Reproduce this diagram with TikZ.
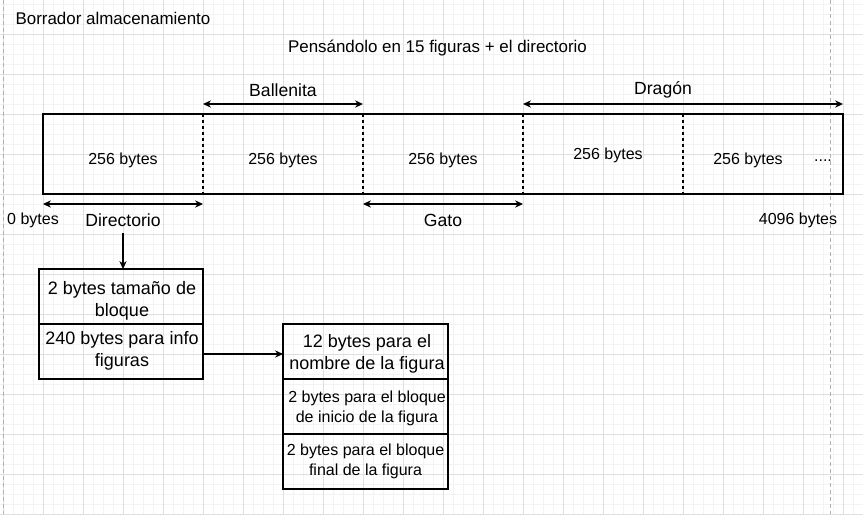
\documentclass[tikz,border=0pt]{standalone}
\usepackage{fontspec}
\setmainfont{Liberation Sans}
\usetikzlibrary{arrows.meta,calc}
\definecolor{gridminor}{HTML}{F3F3F3}
\definecolor{gridmajor}{HTML}{DFDFDF}
\definecolor{pageline}{HTML}{B0B0B0}
\begin{document}
\begin{tikzpicture}[x=0.75pt,y=-0.75pt,
  line/.style={draw=black,line width=0.8pt},
  div/.style={draw=black,line width=0.8pt,dash pattern=on 2.25pt off 2.25pt},
  tip/.tip={Stealth[length=6pt,width=5.5pt,inset=2pt]},
  arr/.style={line,-tip},
  darr/.style={line,tip-tip},
  cellnode/.style={minimum width=120pt,minimum height=60pt,inner sep=0pt,outer sep=0pt},
  celltxt/.style={inner sep=0pt,font=\fontsize{12pt}{14pt}\selectfont},
  title/.style={inner sep=0pt,font=\fontsize{12.7pt}{15pt}\selectfont},
  arrlbl/.style={inner sep=0pt,font=\fontsize{13.2pt}{15pt}\selectfont},
  boxcell/.style={draw=black,line width=0.8pt,inner sep=0pt,outer sep=0pt},
  bigtxt/.style={inner sep=0pt,align=center,font=\fontsize{13.5pt}{16.5pt}\selectfont},
  smalltxt/.style={inner sep=0pt,align=center,font=\fontsize{12pt}{15pt}\selectfont}
]
\useasboundingbox (0,0) rectangle (863,514);
\fill[white] (0,0) rectangle (863,514);
% grid
\foreach \gx in {3,13,...,863} \draw[gridminor,line width=0.75pt] (\gx,0) -- (\gx,514);
\foreach \gy in {4,14,...,514} \draw[gridminor,line width=0.75pt] (0,\gy) -- (863,\gy);
\foreach \gx in {3,43,...,863} \draw[gridmajor,line width=0.75pt] (\gx,0) -- (\gx,514);
\foreach \gy in {34,74,...,514} \draw[gridmajor,line width=0.75pt] (0,\gy) -- (863,\gy);
% page boundaries
\draw[pageline,line width=0.75pt,dash pattern=on 3pt off 2.25pt] (3,0) -- (3,514);
\draw[pageline,line width=0.75pt,dash pattern=on 3pt off 2.25pt] (830,0) -- (830,514);

% titles
\node[title] (borrador) at (113,18) {Borrador almacenamiento};
\node[title] (pensando) at (437.5,48.5) {Pensándolo en 15 figuras + el directorio};

% memory strip
\node[cellnode] (c1) at (123,154) {};
\node[cellnode] (c2) at (283,154) {};
\node[cellnode] (c3) at (443,154) {};
\node[cellnode] (c4) at (603,154) {};
\node[cellnode] (c5) at (763,154) {};
\draw[line] (c1.north west) rectangle (c5.south east);
\foreach \i in {1,...,4} \draw[div] (c\i.north east) -- (c\i.south east);
\node[celltxt] (t1) at (123,160.5) {256 bytes};
\node[celltxt] (t2) at (283,160.5) {256 bytes};
\node[celltxt] (t3) at (443,160.5) {256 bytes};
\node[celltxt] (t4) at (608,155.5) {256 bytes};
\node[celltxt] (t5) at (748,160.5) {256 bytes};
\node[celltxt,anchor=base] (dots) at (823,161) {....};

% range arrows
\draw[darr] ($(c2.north west)+(0,-10)$) -- ($(c2.north east)+(0,-10)$);
\draw[darr] ($(c4.north west)+(0,-10)$) -- ($(c5.north east)+(0,-10)$);
\draw[darr] ($(c1.south west)+(0,10)$) -- ($(c1.south east)+(0,10)$);
\draw[darr] ($(c3.south west)+(0,10)$) -- ($(c3.south east)+(0,10)$);
\node[arrlbl] (ballenita) at (283,90) {Ballenita};
\node[arrlbl] (dragon) at (663,90) {Dragón};
\node[arrlbl] (directorio) at (123,220) {Directorio};
\node[arrlbl] (gato) at (443,220) {Gato};
\node[celltxt] (zero) at (33,220.5) {0 bytes};
\node[celltxt] (end) at (798,220.5) {4096 bytes};

% directory box
\node[boxcell,minimum width=123pt,minimum height=41.25pt] (b1a) at (121,296.5) {};
\node[boxcell,minimum width=123pt,minimum height=41.25pt] (b1b) at (121,351.5) {};
\node[bigtxt] (b1atxt) at (122,300.5) {2 bytes tamaño de\\bloque};
\node[bigtxt] (b1btxt) at (122,350.5) {240 bytes para info\\figuras};
\coordinate (dirtail) at (123,233);
\draw[arr] (dirtail) -- (dirtail |- b1a.north);

% figure entry box
\node[boxcell,minimum width=123.75pt,minimum height=41.25pt] (b2a) at (365.5,351.5) {};
\node[boxcell,minimum width=123.75pt,minimum height=41.25pt] (b2b) at (365.5,406.5) {};
\node[boxcell,minimum width=123.75pt,minimum height=41.25pt] (b2c) at (365.5,461.5) {};
\node[bigtxt] (b2atxt) at (367,354) {12 bytes para el\\nombre de la figura};
\node[smalltxt] (b2btxt) at (367,408.5) {2 bytes para el bloque\\de inicio de la figura};
\node[smalltxt] (b2ctxt) at (365.5,461.5) {2 bytes para el bloque\\final de la figura};
\draw[arr] ($(b1b.east)+(0,2.5)$) -- ($(b2a.west)+(0,2.5)$);
\end{tikzpicture}
\end{document}
